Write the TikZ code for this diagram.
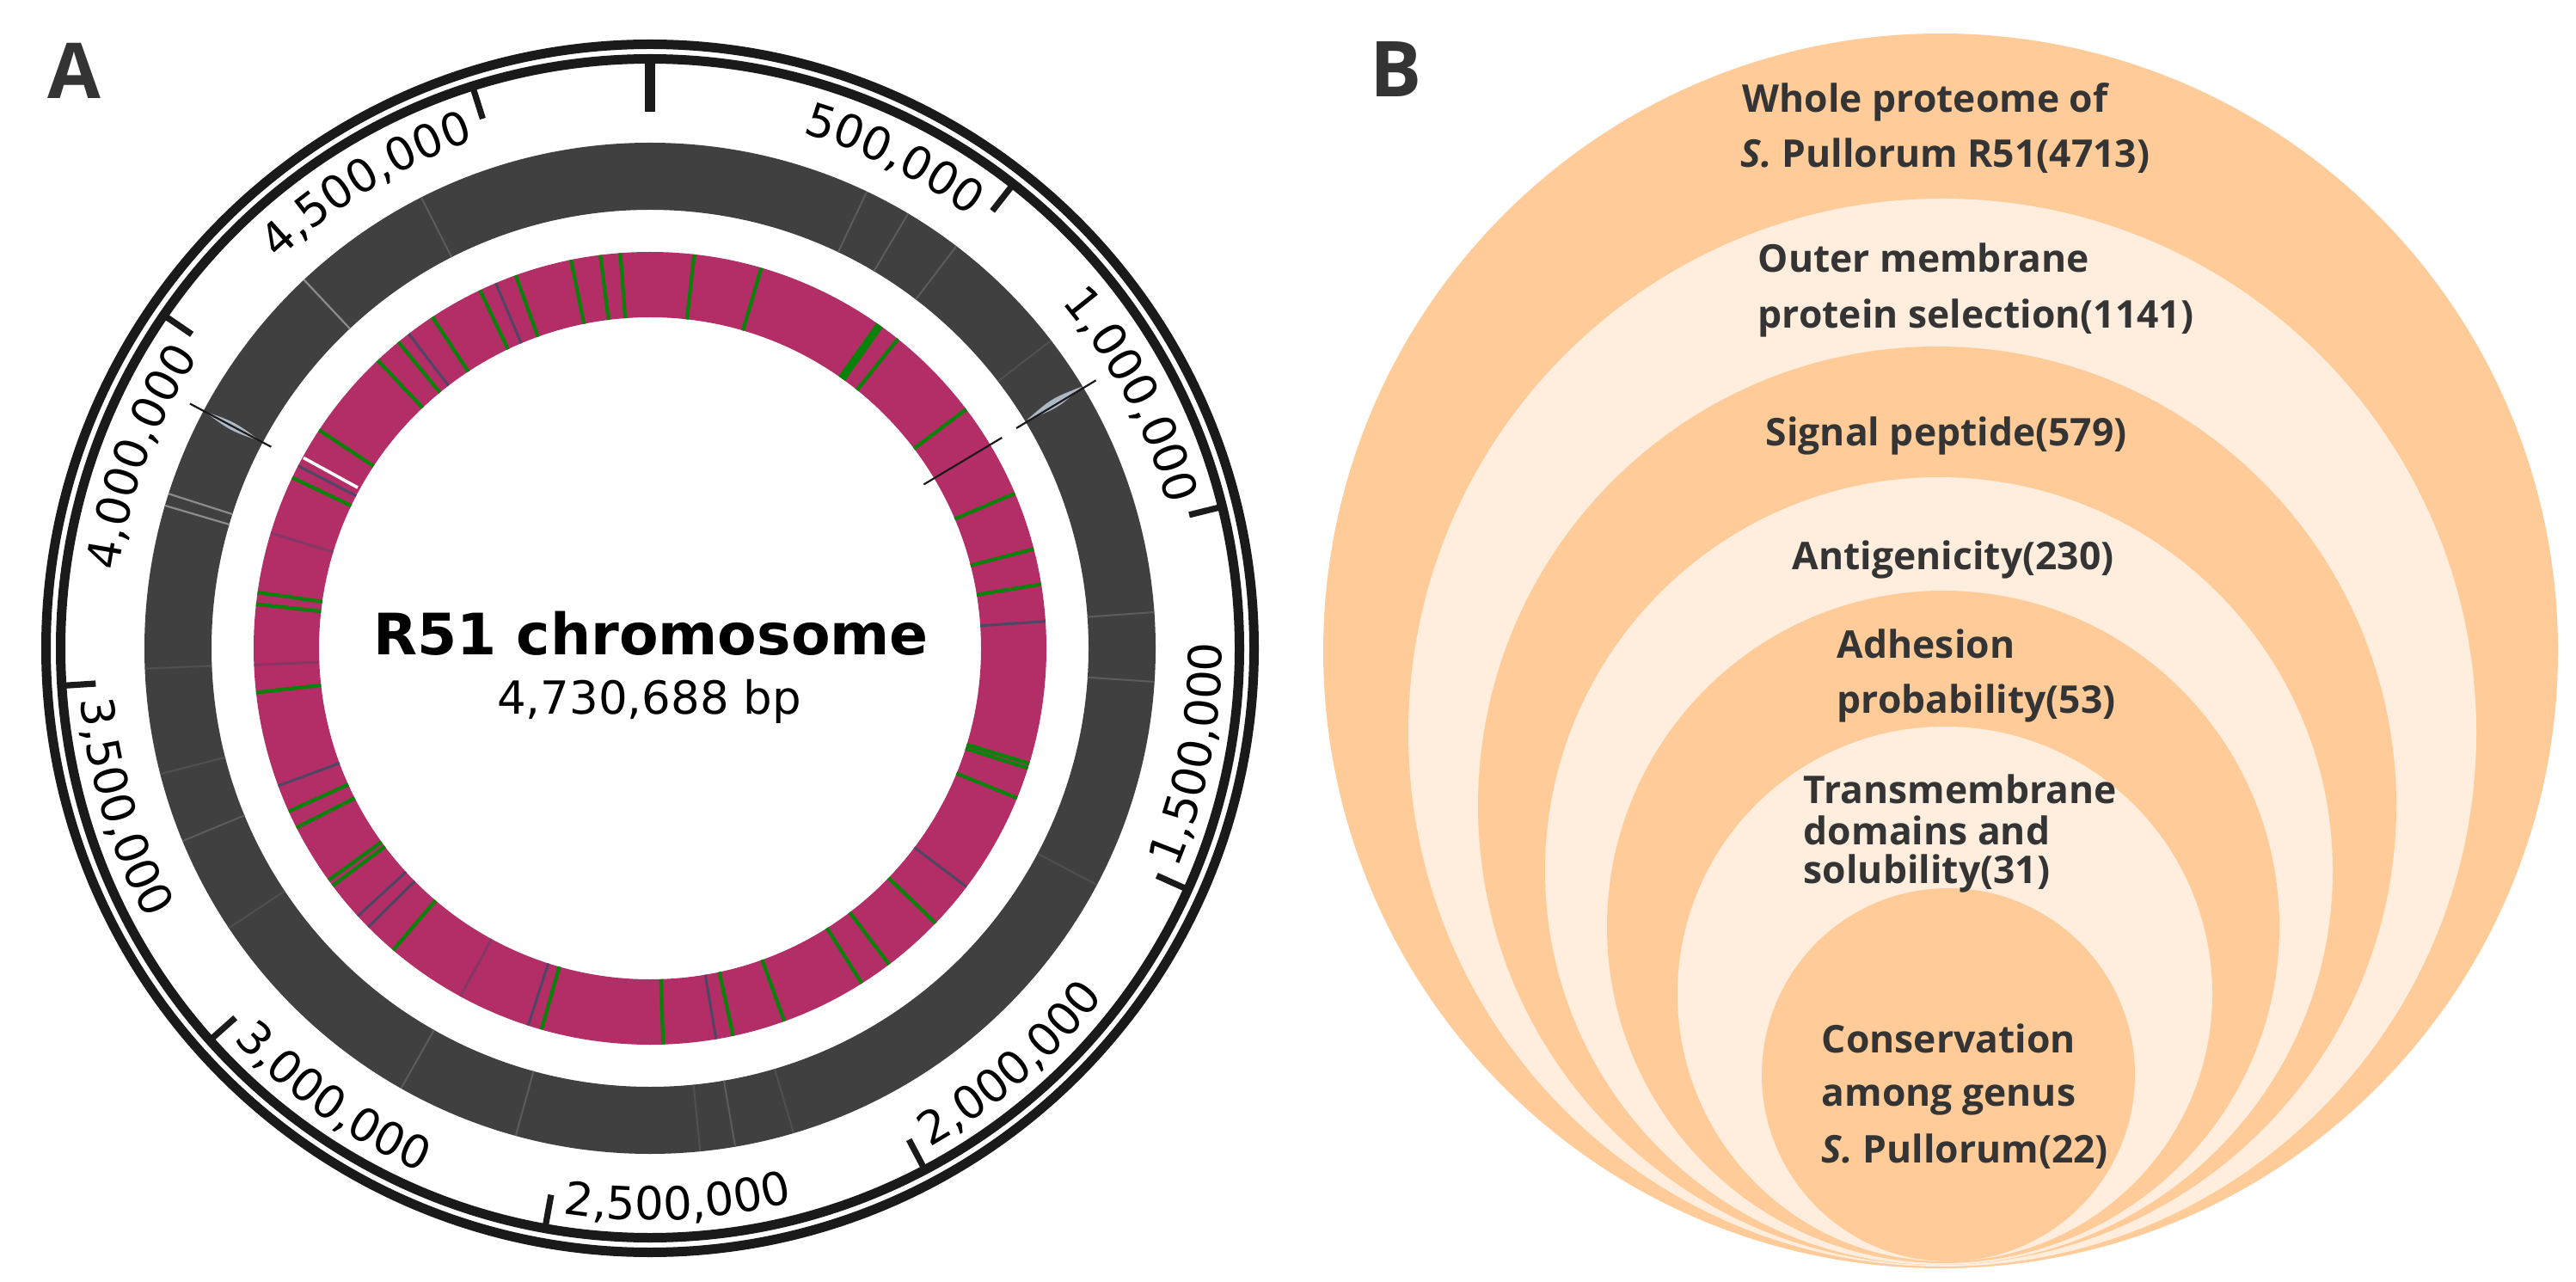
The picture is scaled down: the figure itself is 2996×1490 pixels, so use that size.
\documentclass[tikz,border=0pt]{standalone}
\usepackage{fontspec}
\setmainfont{DejaVu Sans}
\newfontfamily\dvs{DejaVu Sans}
\newfontfamily\osans{Open Sans}
\definecolor{pinkc}{RGB}{179,45,102}
\definecolor{darkring}{RGB}{64,64,64}
\definecolor{greenc}{RGB}{8,130,8}
\definecolor{slatec}{RGB}{78,70,100}
\definecolor{grayc}{RGB}{92,92,92}
\definecolor{lgrayc}{RGB}{140,140,140}
\definecolor{lensc}{RGB}{172,184,198}
\definecolor{ringline}{RGB}{26,26,26}
\definecolor{peach}{RGB}{255,204,153}
\definecolor{lpeach}{RGB}{255,237,221}
\definecolor{btext}{RGB}{52,52,52}
% one tick label, character by character along an arc
% #1 name, #2 start angle, #3 radius, #4 direction (-1 clockwise, 1 counter-clockwise), #5 chars (10 = comma)
\newcommand\tlabel[5]{%
  \xdef\tlcur{0}%
  \foreach \ch [count=\ci] in {#5} {%
    \ifnum\ch=10 \def\tlw{16.85}\else\def\tlw{33.7}\fi
    \pgfmathsetmacro\tlang{#2 + #4*(\tlcur + \tlw/2)/#3*57.29578}%
    \pgfmathsetmacro\tlrot{\tlang + #4*90}%
    \node[ticklab,rotate=\tlrot] (#1-\ci) at (\tlang:#3) {\ifnum\ch=10 ,\else\ch\fi};
    \pgfmathsetmacro\tlnext{\tlcur+\tlw}%
    \xdef\tlcur{\tlnext}%
  }%
}
\begin{document}
\begin{tikzpicture}[x=0.25pt,y=0.25pt,
  outerln/.style={draw=ringline,line width=2.75pt},
  tickln/.style={draw=ringline,line width=1.8pt},
  majortick/.style={draw=ringline,line width=2.8pt},
  greenln/.style={draw=greenc,line width=1.05pt},
  slateln/.style={draw=slatec,line width=0.75pt},
  grayln/.style={draw=grayc,line width=0.5pt},
  lgrayln/.style={draw=lgrayc,line width=0.55pt},
  blackln/.style={draw=ringline,line width=0.55pt},
  ticklab/.style={font=\dvs\fontsize{13.25}{15}\selectfont,inner sep=0pt,anchor=base},
  btxt/.style={font=\osans\bfseries\fontsize{11.1}{13}\selectfont,text=btext,inner sep=0pt,anchor=base west},
  paneltxt/.style={font=\osans\bfseries\fontsize{22.4}{26}\selectfont,text=btext,inner sep=0pt,anchor=base west}]
\useasboundingbox (0,0) rectangle (2996,1490);
\fill[white] (0,0) rectangle (2996,1490);

% ---------------- Panel A ----------------
\node[paneltxt] (labA) at (55,1375) {A};
\coordinate (ca) at (756,736);
\begin{scope}[shift={(ca)}]
  % dark ring
  \fill[darkring,even odd rule] (0,0) circle[radius=588] (0,0) circle[radius=510];
  \foreach \t in {25.4,30.7,37.3,85.9,93.8,170.3,195.4,209.5,247.6,333.1}
    \draw[grayln] ({90-\t}:510) -- ({90-\t}:588);
  \foreach \t in {52.5,117.9,163.5,174.3,236.4,255.6,267.7}
    \draw[grayln,opacity=0.6] ({90-\t}:510) -- ({90-\t}:588);
  \foreach \t in {286.4,287.8,316.8}
    \draw[lgrayln] ({90-\t}:510) -- ({90-\t}:588);
  % lenses on dark ring
  \fill[lensc] ({90-58.8}:512) .. controls ({90-58.1}:550) .. ({90-58.8}:588) .. controls ({90-59.5}:550) .. cycle;
  \fill[lensc] ({90-298.0}:512) .. controls ({90-297.4}:550) .. ({90-298.0}:588) .. controls ({90-298.6}:550) .. cycle;
  \draw[blackln] ({90-59.0}:497) -- ({90-59.0}:605);
  \draw[blackln] ({90-298.0}:499) -- ({90-298.0}:606);
  % pink ring
  \fill[pinkc,even odd rule] (0,0) circle[radius=461] (0,0) circle[radius=385];
  \foreach \t in {6.4,16.3,38.7,52.9,67.0,75.5,80.7,106.9,107.6,112.2,133.9,142.9,147.7,160.2,167.9,178.1,195.9,220.4,233.2,234.2,243.1,245.7,263.6,276.4,278.1,295.5,303.4,316.6,320.6,326.7,334.6,340.2,348.5,352.8,355.7}
    \draw[greenln] ({90-\t}:385) -- ({90-\t}:461);
  \draw[greenc,line width=2.3pt] ({90-35.4}:385) -- ({90-35.4}:461);
  \foreach \t in {86.1,127.0,170.4,197.9,225.3,227.5,249.7,297.4,322.5,337.1}
    \draw[slateln] ({90-\t}:385) -- ({90-\t}:461);
  \foreach \t in {208.6,267.6,286.9}
    \draw[slateln,opacity=0.45] ({90-\t}:385) -- ({90-\t}:461);
  \draw[white,line width=0.9pt] ({90-298.8}:388) -- ({90-298.8}:460);
  \draw[blackln] ({90-59.1}:371) -- ({90-59.1}:477);
  % outer double circle
  \draw[outerln] (0,0) circle[radius=702.5];
  \draw[outerln] (0,0) circle[radius=685.5];
  % ticks
  \draw[majortick] (90:686) -- (90:624);
  \foreach \t in {38.05,76.10,114.16,152.21,190.26,228.31,266.36,304.42,342.47}
    \draw[tickln] ({90-\t}:686) -- ({90-\t}:646);
  % tick labels, upper half (read clockwise, tops outward)
  \tlabel{l05}{73.53}{625}{-1}{5,0,0,10,0,0,0}
  \tlabel{l10}{40.12}{625}{-1}{1,10,0,0,0,10,0,0,0}
  \tlabel{l40}{-188.20}{625}{-1}{4,10,0,0,0,10,0,0,0}
  \tlabel{l45}{-226.25}{625}{-1}{4,10,5,0,0,10,0,0,0}
  % tick labels, lower half (read counter-clockwise, tops inward)
  \tlabel{l15}{-22.66}{665}{1}{1,10,5,0,0,10,0,0,0}
  \tlabel{l20}{-60.71}{665}{1}{2,10,0,0,0,10,0,0,0}
  \tlabel{l25}{-98.76}{665}{1}{2,10,5,0,0,10,0,0,0}
  \tlabel{l30}{-136.81}{665}{1}{3,10,0,0,0,10,0,0,0}
  \tlabel{l35}{-174.86}{665}{1}{3,10,5,0,0,10,0,0,0}
\end{scope}
\node[font=\dvs\bfseries\fontsize{16.6}{18}\selectfont,inner sep=0pt,anchor=base] (chrom) at (757,729) {R51 chromosome};
\node[font=\dvs\fontsize{13.25}{15}\selectfont,inner sep=0pt,anchor=base] (bp) at (755,659) {4,730,688 bp};

% ---------------- Panel B ----------------
\node[paneltxt] (labB) at (1593,1377) {B};
\fill[peach]  (2257,733) circle[radius=718];
\fill[lpeach] (2259,638) circle[radius=621];
\fill[peach]  (2253,553) circle[radius=534];
\fill[lpeach] (2255,477) circle[radius=458];
\fill[peach]  (2260,412) circle[radius=391];
\fill[lpeach] (2262,334) circle[radius=311];
\fill[peach]  (2266,240) circle[radius=217];

\node[btxt] (t1) at (2026,1359) {Whole proteome of};
\node[btxt] (t2) at (2024,1295) {\itshape S.\upshape{} Pullorum R51(4713)};
\node[btxt] (t3) at (2044,1173) {Outer membrane};
\node[btxt] (t4) at (2044,1108) {protein selection(1141)};
\node[btxt] (t5) at (2053,971) {Signal peptide(579)};
\node[btxt] (t6) at (2084,827) {Antigenicity(230)};
\node[btxt] (t7) at (2136,724) {Adhesion};
\node[btxt] (t8) at (2136,660) {probability(53)};
\node[btxt] (t9) at (2097,556) {Transmembrane};
\node[btxt] (t10) at (2097,508) {domains and};
\node[btxt] (t11) at (2097,463) {solubility(31)};
\node[btxt] (t12) at (2118,266) {Conservation};
\node[btxt] (t13) at (2118,204) {among genus};
\node[btxt] (t14) at (2118,138) {\itshape S.\upshape{} Pullorum(22)};
\end{tikzpicture}
\end{document}
